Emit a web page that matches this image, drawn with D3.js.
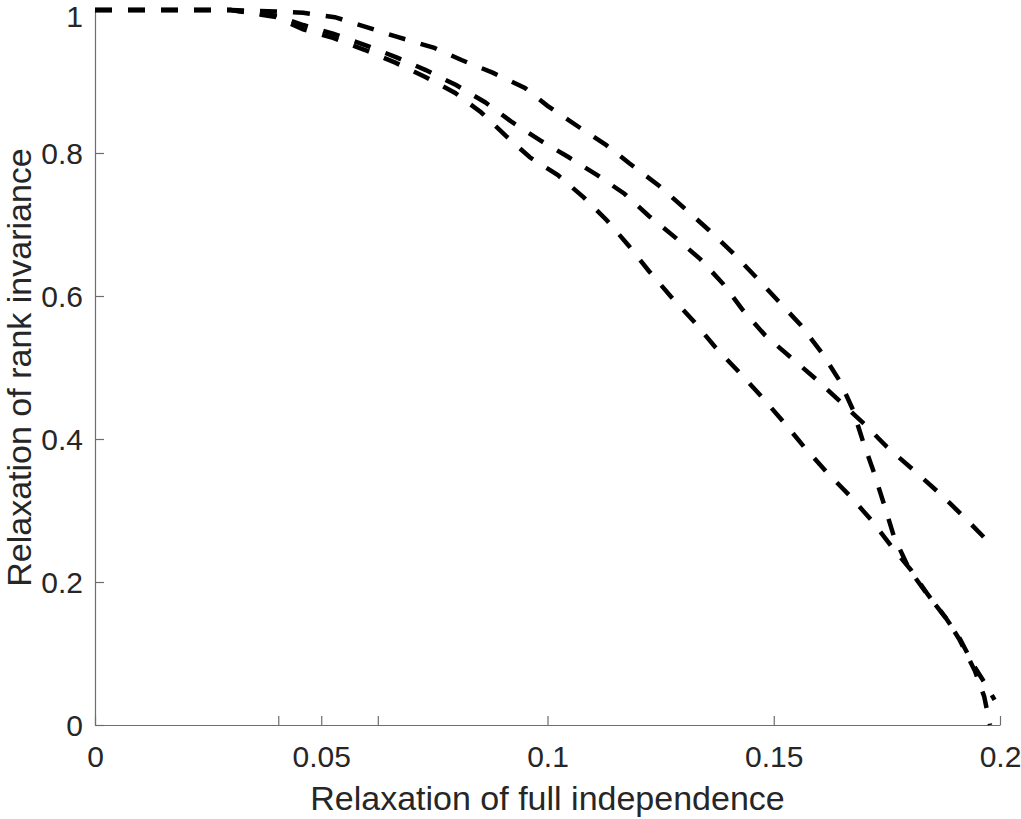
<!DOCTYPE html>
<html>
<head>
<meta charset="utf-8">
<script src="https://cdn.jsdelivr.net/npm/d3@7"></script>
<style>
  body { margin: 0; background: #fff; }
  svg { display: block; }
  .tick text { font-family: "Liberation Sans", Arial, sans-serif; fill: #262626; }
</style>
</head>
<body>
<div id="app"></div>
<script>
// curve A: top one, plunges to 0 near the end
const xA = [0, 0.03, 0.04, 0.046, 0.053, 0.06, 0.067, 0.075, 0.081, 0.088, 0.095, 0.1, 0.107, 0.113, 0.118, 0.1245, 0.1304, 0.1357, 0.141, 0.146, 0.151, 0.156, 0.1607, 0.1646, 0.1675, 0.1697, 0.1722, 0.1744, 0.1766, 0.18, 0.184, 0.188, 0.191, 0.1945, 0.1965, 0.1978];
const yA = [1, 1, 0.998, 0.996, 0.99, 0.976, 0.962, 0.947, 0.93, 0.912, 0.891, 0.866, 0.836, 0.811, 0.786, 0.755, 0.722, 0.692, 0.66, 0.627, 0.593, 0.559, 0.52, 0.481, 0.441, 0.397, 0.352, 0.308, 0.263, 0.217, 0.182, 0.15, 0.12, 0.075, 0.04, 0];

// curve B: middle one, ends around 0.25
const xB = [0, 0.03, 0.04, 0.046, 0.0526, 0.0597, 0.0665, 0.0731, 0.0798, 0.0862, 0.0922, 0.0983, 0.1047, 0.111, 0.117, 0.1224, 0.1282, 0.1337, 0.1388, 0.1432, 0.1481, 0.1536, 0.1593, 0.1646, 0.17, 0.175, 0.1808, 0.1863, 0.1914, 0.1967, 0.1982];
const yB = [1, 1, 0.992, 0.979, 0.967, 0.951, 0.934, 0.916, 0.895, 0.871, 0.843, 0.818, 0.794, 0.769, 0.743, 0.712, 0.682, 0.652, 0.617, 0.58, 0.545, 0.515, 0.484, 0.453, 0.421, 0.389, 0.357, 0.326, 0.295, 0.261, 0.252];

// curve C: bottom one
const xC = [0, 0.03, 0.04, 0.046, 0.0526, 0.0597, 0.0665, 0.0731, 0.0796, 0.0853, 0.0908, 0.0961, 0.1023, 0.108, 0.1131, 0.118, 0.1224, 0.1273, 0.1324, 0.137, 0.1421, 0.1472, 0.152, 0.1567, 0.1615, 0.1666, 0.1715, 0.1761, 0.1803, 0.184, 0.188, 0.191, 0.1945, 0.197, 0.1988];
const yC = [1, 1, 0.99, 0.973, 0.961, 0.944, 0.926, 0.906, 0.884, 0.857, 0.824, 0.794, 0.769, 0.738, 0.706, 0.67, 0.635, 0.599, 0.564, 0.529, 0.495, 0.46, 0.425, 0.389, 0.355, 0.322, 0.287, 0.249, 0.217, 0.183, 0.15, 0.122, 0.08, 0.055, 0.035];

const xTicks = [0, 0.0405, 0.05, 0.0625, 0.1, 0.15, 0.2];
const xTickLabels = ["0", "", "0.05", "", "0.1", "0.15", "0.2"];
const yTicks = [0, 0.2, 0.4, 0.6, 0.8, 1];
const yTickLabels = ["0", "0.2", "0.4", "0.6", "0.8", "1"];

const xTitle = "Relaxation of full independence";
const yTitle = "Relaxation of rank invariance";

const W = 1021, H = 819;
const plotLeft = 95, plotRight = 1000, plotTop = 10, plotBottom = 725;

const svg = d3.select("#app").append("svg")
  .attr("width", W)
  .attr("height", H);

const x = d3.scaleLinear().domain([0, 0.2]).range([plotLeft, plotRight]);
const y = d3.scaleLinear().domain([0, 1]).range([plotBottom, plotTop]);

//axes
const xAxis = d3.axisBottom(x)
  .tickValues(xTicks)
  .tickFormat((d, i) => xTickLabels[i])
  .tickSizeInner(-9)
  .tickSizeOuter(0)
  .tickPadding(21);
const yAxis = d3.axisLeft(y)
  .tickValues(yTicks)
  .tickFormat((d, i) => yTickLabels[i])
  .tickSizeInner(-9)
  .tickSizeOuter(0)
  .tickPadding(12);

const gx = svg.append("g").attr("transform", `translate(0,${plotBottom})`).call(xAxis);
const gy = svg.append("g").attr("transform", `translate(${plotLeft},0)`).call(yAxis);
[gx, gy].forEach((g) => {
  g.selectAll("path.domain").attr("stroke", "#6e6e6e").attr("stroke-width", 1.2);
  g.selectAll(".tick line").attr("stroke", "#6e6e6e").attr("stroke-width", 1.2);
  g.selectAll(".tick text").style("font-size", "30px").attr("fill", "#262626");
});
gy.selectAll(".tick text").attr("dy", "0.36em");
// keep the top "1" fully inside the picture
gy.selectAll(".tick text").filter((d) => d === 1).attr("dy", "0.56em");

//titles
svg.append("text")
  .attr("x", (plotLeft + plotRight) / 2)
  .attr("y", 810)
  .attr("text-anchor", "middle")
  .style("font-family", "'Liberation Sans', Arial, sans-serif")
  .style("font-size", "34px")
  .attr("fill", "#262626")
  .text(xTitle);
svg.append("text")
  .attr("transform", `translate(31,${(plotTop + plotBottom) / 2}) rotate(-90)`)
  .attr("text-anchor", "middle")
  .style("font-family", "'Liberation Sans', Arial, sans-serif")
  .style("font-size", "34px")
  .attr("fill", "#262626")
  .text(yTitle);

//dashed curves
const line = d3.line().x((d) => x(d[0])).y((d) => y(d[1]));
const series = [d3.zip(xA, yA), d3.zip(xB, yB), d3.zip(xC, yC)];
svg.append("g")
  .selectAll("path")
  .data(series)
  .enter()
  .append("path")
  .attr("d", line)
  .attr("fill", "none")
  .attr("stroke", "#000")
  .attr("stroke-width", 4.5)
  .attr("stroke-dasharray", "17,16");
</script>
</body>
</html>
